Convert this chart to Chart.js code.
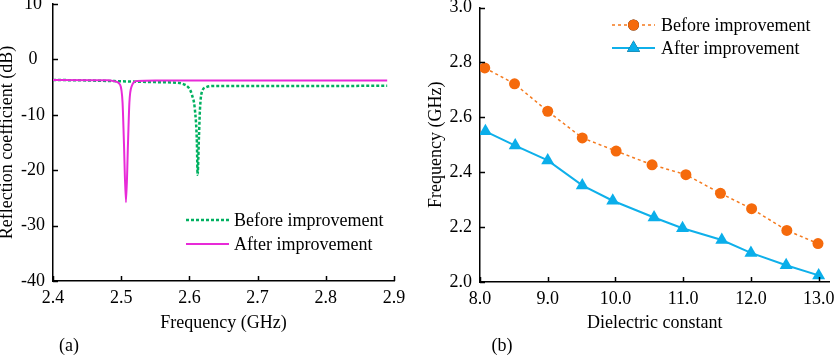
<!DOCTYPE html>
<html lang="en">
<head>
  <meta charset="UTF-8">
  <title>Reflection coefficient / dielectric constant</title>
  <script src="https://cdn.jsdelivr.net/npm/chart.js"></script>
  <style>
    body { margin: 0; background: #fff; }
    .box { position: absolute; top: 0; height: 356px; }
  </style>
</head>
<body>
  <div class="box" style="left:0;width:420px"><canvas id="chartA" width="420" height="356"></canvas></div>
  <div class="box" style="left:420px;width:417px"><canvas id="chartB" width="417" height="356"></canvas></div>
  <script>
    // (a) reflection coefficient vs frequency
    const freqBefore = [2.400, 2.450, 2.500, 2.550, 2.580, 2.592, 2.600, 2.604, 2.608, 2.611, 2.612, 2.614, 2.6155, 2.618, 2.625, 2.635, 2.700, 2.800, 2.890];
    const s11Before  = [-3.7, -3.8, -3.95, -4.1, -4.2, -4.5, -5.3, -6.5, -9.0, -15.0, -20.8, -14.0, -9.0, -6.0, -5.0, -4.8, -4.8, -4.8, -4.75];
    const freqAfter  = [2.400, 2.480, 2.492, 2.498, 2.502, 2.504, 2.507, 2.510, 2.512, 2.5155, 2.523, 2.550, 2.700, 2.890];
    const s11After   = [-3.7, -3.75, -4.0, -4.5, -7.8, -15.0, -25.8, -15.0, -7.8, -4.8, -3.9, -3.8, -3.8, -3.8];

    // (b) resonant frequency vs dielectric constant
    const epsBefore = [8.07, 8.51, 9.0, 9.51, 10.01, 10.54, 11.04, 11.55, 12.01, 12.53, 12.99];
    const fBefore   = [2.78, 2.722, 2.622, 2.525, 2.477, 2.427, 2.391, 2.323, 2.267, 2.188, 2.14];
    const epsAfter  = [8.08, 8.52, 9.0, 9.51, 9.96, 10.57, 10.99, 11.57, 12.0, 12.52, 13.0];
    const fAfter    = [2.549, 2.497, 2.443, 2.352, 2.296, 2.235, 2.196, 2.153, 2.106, 2.061, 2.024];
    const epsTicks  = [8, 9, 10, 11, 12, 13];

    const labelA = ['Before improvement', 'After improvement'];
    const serif = 'Liberation Serif';

    const toXY = (xs, ys) => xs.map((x, i) => ({ x: x, y: ys[i] }));

    // small inward tick marks on both axes
    const innerTicks = {
      id: 'innerTicks',
      afterDraw(chart) {
        const ctx = chart.ctx;
        const a = chart.chartArea;
        ctx.save();
        ctx.strokeStyle = '#000';
        ctx.lineWidth = 1.5;
        chart.scales.x.ticks.forEach(t => {
          const px = Math.round(chart.scales.x.getPixelForValue(t.value)) + 0.5;
          ctx.beginPath(); ctx.moveTo(px, a.bottom); ctx.lineTo(px, a.bottom - 5); ctx.stroke();
        });
        chart.scales.y.ticks.forEach(t => {
          const py = Math.round(chart.scales.y.getPixelForValue(t.value)) + 0.5;
          ctx.beginPath(); ctx.moveTo(a.left, py); ctx.lineTo(a.left + 5, py); ctx.stroke();
        });
        ctx.restore();
      }
    };

    // legend drawn with line sample + marker, and the panel letter
    const sampleLegend = {
      id: 'sampleLegend',
      afterDraw(chart, args, opts) {
        const ctx = chart.ctx;
        ctx.save();
        chart.data.datasets.forEach((ds, i) => {
          const y = opts.rows[i];
          ctx.strokeStyle = ds.borderColor;
          ctx.lineWidth = ds.borderWidth;
          ctx.setLineDash(ds.borderDash || []);
          ctx.beginPath(); ctx.moveTo(opts.x0, y); ctx.lineTo(opts.x1, y); ctx.stroke();
          ctx.setLineDash([]);
          if (ds.pointRadius > 0) {
            Chart.helpers.drawPoint(ctx, {
              pointStyle: ds.pointStyle, radius: ds.pointRadius, rotation: 0, borderWidth: 0
            }, (opts.x0 + opts.x1) / 2, y);
            ctx.fillStyle = ds.pointBackgroundColor;
            ctx.fill();
          }
          ctx.fillStyle = '#000';
          ctx.font = '18px "' + serif + '"';
          ctx.textBaseline = 'alphabetic';
          ctx.fillText(ds.label, opts.textX, y + 6);
        });
        ctx.font = '18px "' + serif + '"';
        ctx.fillStyle = '#000';
        ctx.textAlign = 'center';
        ctx.textBaseline = 'middle';
        ctx.fillText(opts.panel, opts.panelX, 346);
        ctx.restore();
      }
    };

    function axisFont() { return { family: serif, size: 18 }; }

    // Panel (a)
    const chartA = new Chart(document.getElementById('chartA'), {
      type: 'line',
      data: {
        datasets: [{
          label: labelA[0],
          data: toXY(freqBefore, s11Before),
          borderColor: '#00b060',
          borderWidth: 2.5,
          borderDash: [3, 2],
          pointRadius: 0,
          cubicInterpolationMode: 'monotone',
          order: 1
        }, {
          label: labelA[1],
          data: toXY(freqAfter, s11After),
          borderColor: '#e82ad8',
          borderWidth: 2,
          pointRadius: 0,
          cubicInterpolationMode: 'monotone',
          order: 0
        }]
      },
      options: {
        responsive: false,
        animation: false,
        layout: { padding: { left: 0, right: 26, top: 4, bottom: 0 } },
        plugins: {
          legend: { display: false },
          tooltip: { enabled: false },
          sampleLegend: { x0: 186, x1: 229, textX: 234, rows: [220, 244], panel: '(a)', panelX: 69 }
        },
        scales: {
          x: {
            type: 'linear', min: 2.4, max: 2.9,
            ticks: { stepSize: 0.1, color: '#000', font: axisFont(), padding: 6, maxRotation: 0,
              callback: v => v.toFixed(1) },
            grid: { display: false, drawTicks: false },
            border: { display: true, color: '#000', width: 1.5 },
            title: { display: true, text: 'Frequency (GHz)', color: '#000', font: axisFont(), padding: { top: 0, bottom: 22 } },
            afterFit: s => { s.height = 75; s.paddingLeft = 0; s.paddingRight = 0; }
          },
          y: {
            min: -40, max: 10,
            ticks: { stepSize: 10, color: '#000', font: axisFont(), padding: 8, crossAlign: 'center' },
            grid: { display: false, drawTicks: false },
            border: { display: true, color: '#000', width: 1.5 },
            title: { display: true, text: 'Reflection coefficient (dB)', color: '#000',
              font: { family: serif, size: 18, lineHeight: 0.84 }, padding: 0 },
            afterFit: s => { s.width = 53; s.paddingTop = 0; s.paddingBottom = 0; }
          }
        }
      },
      plugins: [innerTicks, sampleLegend]
    });

    // Panel (b)
    const chartB = new Chart(document.getElementById('chartB'), {
      type: 'line',
      data: {
        datasets: [{
          label: labelA[0],
          data: toXY(epsBefore, fBefore),
          borderColor: '#f57a1e',
          borderWidth: 1.5,
          borderDash: [3, 3],
          pointStyle: 'circle',
          pointRadius: 5.5,
          pointBackgroundColor: '#f56a0c',
          pointBorderWidth: 0
        }, {
          label: labelA[1],
          data: toXY(epsAfter, fAfter),
          borderColor: '#0fb0ea',
          borderWidth: 2,
          pointStyle: 'triangle',
          pointRadius: 7.5,
          pointBackgroundColor: '#0aaeea',
          pointBorderWidth: 0
        }]
      },
      options: {
        responsive: false,
        animation: false,
        layout: { padding: { left: 0, right: 5, top: 4, bottom: 0 } },
        plugins: {
          legend: { display: false },
          tooltip: { enabled: false },
          sampleLegend: { x0: 192, x1: 235, textX: 241, rows: [25, 48], panel: '(b)', panelX: 82 }
        },
        scales: {
          x: {
            type: 'linear', min: 8, max: 13.16,
            afterBuildTicks: s => { s.ticks = epsTicks.map(v => ({ value: v })); },
            ticks: { color: '#000', font: axisFont(), padding: 6, maxRotation: 0,
              callback: v => v.toFixed(1) },
            grid: { display: false, drawTicks: false },
            border: { display: true, color: '#000', width: 1.5 },
            title: { display: true, text: 'Dielectric constant', color: '#000', font: axisFont(), padding: { top: 0, bottom: 22 } },
            afterFit: s => { s.height = 74; s.paddingLeft = 0; s.paddingRight = 0; }
          },
          y: {
            min: 2.0, max: 3.0,
            ticks: { stepSize: 0.2, color: '#000', font: axisFont(), padding: 8, crossAlign: 'center',
              callback: v => v.toFixed(1) },
            grid: { display: false, drawTicks: false },
            border: { display: true, color: '#000', width: 1.5 },
            title: { display: true, text: 'Frequency (GHz)', color: '#000', font: axisFont(), padding: { top: 5, bottom: 0 } },
            afterFit: s => { s.width = 60; s.paddingTop = 0; s.paddingBottom = 0; }
          }
        }
      },
      plugins: [innerTicks, sampleLegend]
    });
  </script>
</body>
</html>
